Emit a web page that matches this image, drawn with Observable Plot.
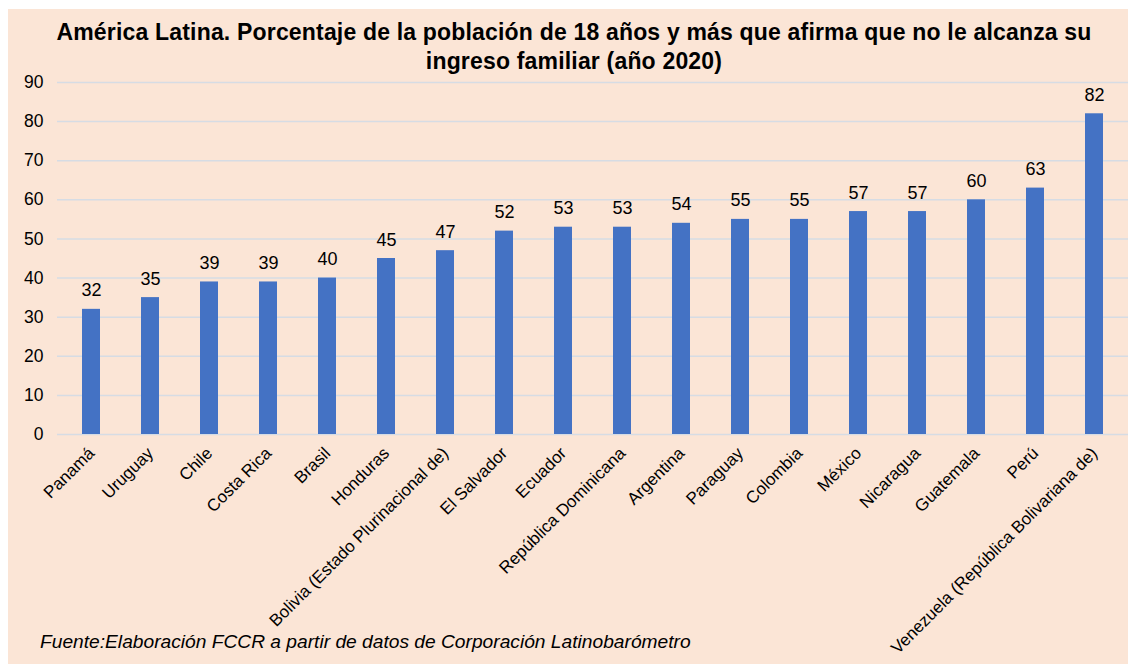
<!DOCTYPE html>
<html>
<head>
<meta charset="utf-8">
<script src="https://cdn.jsdelivr.net/npm/d3@7"></script>
<script src="https://cdn.jsdelivr.net/npm/@observablehq/plot@0.6"></script>
<style>
  html, body { margin: 0; padding: 0; background: #ffffff; }
  #panel {
    position: absolute; left: 8px; top: 9px; width: 1120px; height: 655px;
    background: #FBE5D6; font-family: "Liberation Sans", Arial, sans-serif; color: #000;
    overflow: hidden;
  }
  #title {
    position: absolute; left: 0; top: 9px; width: 1132px; text-align: center;
    font-weight: bold; font-size: 23px; line-height: 29px; letter-spacing: 0.18px;
  }
  #chart { position: absolute; left: 0; top: 53px; }
  #caption {
    position: absolute; left: 32px; top: 622px; font-style: italic; font-size: 19.2px;
  }
</style>
</head>
<body>
<div id="panel">
  <div id="title">América Latina. Porcentaje de la población de 18 años y más que afirma que no le alcanza su<br>ingreso familiar (año 2020)</div>
  <div id="chart"></div>
  <div id="caption">Fuente:Elaboración FCCR a partir de datos de Corporación Latinobarómetro</div>
</div>
<script>
const countries = ["Panamá", "Uruguay", "Chile", "Costa Rica", "Brasil", "Honduras",
  "Bolivia (Estado Plurinacional de)", "El Salvador", "Ecuador", "República Dominicana",
  "Argentina", "Paraguay", "Colombia", "México", "Nicaragua", "Guatemala", "Perú",
  "Venezuela (República Bolivariana de)"];
const values = [32, 35, 39, 39, 40, 45, 47, 52, 53, 53, 54, 55, 55, 57, 57, 60, 63, 82];
const yTicks = [0, 10, 20, 30, 40, 50, 60, 70, 80, 90];

const data = countries.map((c, i) => ({country: c, value: values[i]}));

const chart = Plot.plot({
  width: 1120,
  height: 602,
  marginTop: 20,
  marginBottom: 230,
  marginLeft: 49,
  marginRight: 0,
  style: {background: "transparent", fontFamily: "'Liberation Sans', Arial, sans-serif", color: "#000"},
  x: {domain: countries, paddingInner: 0.7, paddingOuter: 0.35, label: null},
  y: {domain: [0, 90], ticks: yTicks, label: null},
  marks: [
    Plot.ruleY(yTicks, {stroke: "#D6DCE4", strokeWidth: 1.5}),
    Plot.axisY({ticks: yTicks, tickSize: 0, tickPadding: 14, fontSize: 17.5, label: null}),
    Plot.axisX({tickSize: 0, tickPadding: 16, tickRotate: -45, fontSize: 17, label: null}),
    Plot.barY(data, {x: "country", y: "value", fill: "#4472C4"}),
    Plot.text(data, {x: "country", y: "value", text: d => String(d.value), lineAnchor: "bottom", dy: -13, fontSize: 18, fill: "#000"})
  ]
});
document.getElementById("chart").appendChild(chart);
</script>
</body>
</html>
